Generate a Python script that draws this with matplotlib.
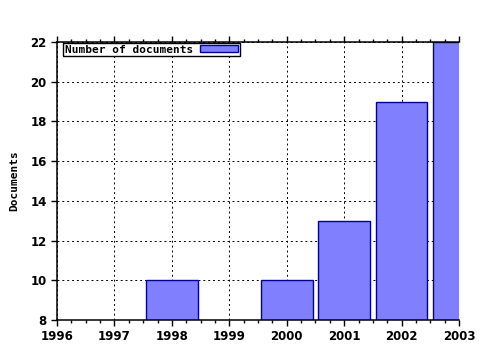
import matplotlib
matplotlib.use("Agg")
import matplotlib.pyplot as plt
from matplotlib.ticker import MultipleLocator

years = [1998, 2000, 2001, 2002, 2003]
docs = [10, 10, 13, 19, 22]
xticks = [1996, 1997, 1998, 1999, 2000, 2001, 2002, 2003]
yticks = [8, 10, 12, 14, 16, 18, 20, 22]

fig = plt.figure(figsize=(4.8, 3.5), dpi=100)
ax = fig.add_axes([57/480, 1-320/350, 402/480, 278/350])

ax.bar(years, docs, width=0.9, color="#8080ff", edgecolor="#000099",
       linewidth=1, label="Number of documents", zorder=3)

ax.set_xlim(1996, 2003)
ax.set_ylim(8, 22)
ax.set_xticks(xticks)
ax.set_yticks(yticks)
ax.xaxis.set_minor_locator(MultipleLocator(0.25))
ax.grid(True, which="major", color="black", linestyle=(0, (2, 3)), linewidth=0.7, zorder=1)

ax.spines["right"].set_visible(False)
for s in ["left", "bottom", "top"]:
    ax.spines[s].set_linewidth(1.1)
    ax.spines[s].set_zorder(4)

ax.tick_params(axis="x", which="both", top=True, direction="out", labelsize=8.5, width=1)
ax.tick_params(axis="x", which="major", length=4)
ax.tick_params(axis="x", which="minor", length=2)
ax.tick_params(axis="y", direction="out", length=4, width=1, labelsize=8.5)
for lab in ax.get_xticklabels() + ax.get_yticklabels():
    lab.set_fontweight("bold")

ax.set_ylabel("Documents", fontsize=8, fontweight="bold", family="DejaVu Sans Mono", labelpad=8)

leg = ax.legend(loc="upper left", bbox_to_anchor=(0.012, 1.0), frameon=True, fancybox=False,
                prop={"family": "DejaVu Sans Mono", "weight": "bold", "size": 8},
                handlelength=3.5, handleheight=0.6, markerfirst=False,
                borderpad=0.15, borderaxespad=0.1, handletextpad=0.6)
leg.get_frame().set_edgecolor("black")
leg.get_frame().set_linewidth(1)
leg.get_frame().set_alpha(1)

fig.savefig("out.png", dpi=100)
